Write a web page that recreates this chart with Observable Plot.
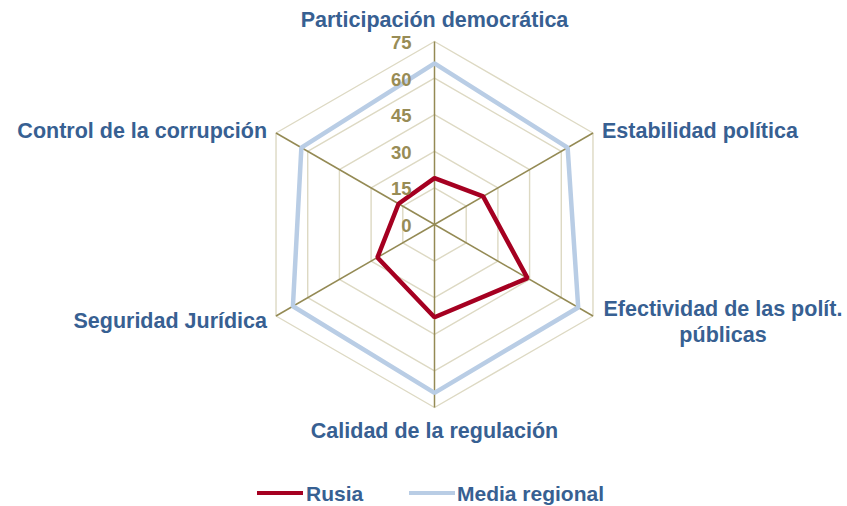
<!DOCTYPE html>
<html>
<head>
<meta charset="utf-8">
<script src="https://cdn.jsdelivr.net/npm/d3@7"></script>
<script src="https://cdn.jsdelivr.net/npm/@observablehq/plot@0.6"></script>
<style>
  html, body { margin: 0; padding: 0; background: #fff; }
  #wrap { width: 847px; }
  #legend { position: relative; width: 847px; height: 36px; font-family: "Liberation Sans", Arial, sans-serif; font-weight: bold; font-size: 21px; color: #376092; }
  .sw { position: absolute; height: 4px; top: 21px; }
  .lab { position: absolute; top: 12px; line-height: 24px; }
</style>
</head>
<body>
<div id="wrap"></div>
<script>
const categories = ["Participación democrática", "Estabilidad política", "Efectividad de las polít.\npúblicas", "Calidad de la regulación", "Seguridad Jurídica", "Control de la corrupción"];
const rusia = [19, 23, 44, 38, 27, 17];
const mediaRegional = [66, 63, 68, 69, 67, 63];
const seriesNames = ["Rusia", "Media regional"];
const seriesColors = ["#a50021", "#b9cde5"];
const gridLevels = [15, 30, 45, 60, 75];
const tickLabels = [0, 15, 30, 45, 60, 75];
const maxValue = 75;

const n = categories.length;
const ang = i => (i * 2 * Math.PI) / n;
const px = (i, r) => r * Math.sin(ang(i));
const py = (i, r) => r * Math.cos(ang(i));

const gridData = [];
for (const lv of gridLevels) {
  for (let i = 0; i <= n; i++) gridData.push({level: lv, x: px(i % n, lv), y: py(i % n, lv)});
}
const spokes = categories.map((c, i) => ({x1: 0, y1: 0, x2: px(i, maxValue), y2: py(i, maxValue)}));

const seriesData = [];
[rusia, mediaRegional].forEach((vals, s) => {
  for (let i = 0; i <= n; i++) seriesData.push({series: seriesNames[s], x: px(i % n, vals[i % n]), y: py(i % n, vals[i % n])});
});

const labelOffsets = [
  {dx: 0, dy: -22.5, anchor: "middle"},
  {dx: 9, dy: -3, anchor: "start"},
  {dx: 130, dy: 5, anchor: "middle"},
  {dx: 0, dy: 22, anchor: "middle"},
  {dx: -9, dy: 4, anchor: "end"},
  {dx: -9, dy: -3, anchor: "end"}
];
const catLabels = categories.map((c, i) => ({text: c, x: px(i, maxValue), y: py(i, maxValue), ...labelOffsets[i]}));

const R = 183, cx = 434, cy = 224;
const chart = Plot.plot({
  width: 847,
  height: 470,
  margin: 0,
  x: {domain: [-maxValue, maxValue], range: [cx - R, cx + R], axis: null},
  y: {domain: [-maxValue, maxValue], range: [cy + R, cy - R], axis: null},
  style: {fontFamily: "'Liberation Sans', Arial, sans-serif", background: "#fff"},
  marks: [
    Plot.line(gridData, {x: "x", y: "y", z: "level", stroke: "#ddd9c3", strokeWidth: 1.4}),
    Plot.link(spokes, {x1: "x1", y1: "y1", x2: "x2", y2: "y2", stroke: "#948a54", strokeWidth: 1.5}),
    Plot.line(seriesData, {x: "x", y: "y", z: "series", stroke: d => d.series === seriesNames[0] ? seriesColors[0] : seriesColors[1], strokeWidth: 4.5, strokeLinejoin: "miter", curve: "linear-closed"}),
    Plot.text(tickLabels, {x: 0, y: d => d, text: d => String(d), dx: -23, dy: 1.5, textAnchor: "end", fill: "#988c56", fontSize: 18.5, fontWeight: "bold"}),
    ...catLabels.map(l => Plot.text([l], {x: "x", y: "y", text: "text", dx: l.dx, dy: l.dy, textAnchor: l.anchor, lineHeight: 1.2, fill: "#376092", fontSize: 21.5, fontWeight: "bold"}))
  ]
});
document.getElementById("wrap").appendChild(chart);

const legend = document.createElement("div");
legend.id = "legend";
const pos = [{sw: 257, lab: 306}, {sw: 409, lab: 457}];
seriesNames.forEach((name, i) => {
  const sw = document.createElement("div");
  sw.className = "sw";
  sw.style.left = pos[i].sw + "px";
  sw.style.width = "46px";
  sw.style.background = seriesColors[i];
  const lab = document.createElement("div");
  lab.className = "lab";
  lab.style.left = pos[i].lab + "px";
  lab.textContent = name;
  legend.appendChild(sw);
  legend.appendChild(lab);
});
document.getElementById("wrap").appendChild(legend);
</script>
</body>
</html>
